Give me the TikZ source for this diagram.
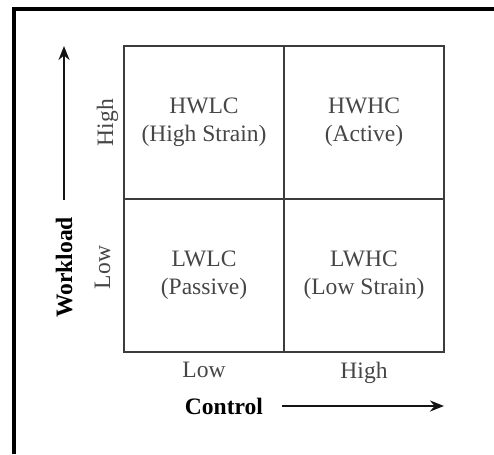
\documentclass[tikz,border=0pt]{standalone}
\usepackage{fontspec}
\setmainfont{Liberation Serif}
\usepackage{tikz}
\usetikzlibrary{arrows.meta, positioning, calc}
\definecolor{mydark}{RGB}{20,20,20}
\definecolor{mygrid}{RGB}{60,60,60}
\definecolor{mytext}{RGB}{70,70,70}
\tikzset{
  cell/.style={rectangle, draw=mygrid, line width=1.1pt,
    minimum width=3.2cm, minimum height=3.06cm, inner sep=0pt, outer sep=0pt,
    align=center, text=mytext, font=\fontsize{13.4}{16}\selectfont},
  axlabel/.style={inner sep=0pt, text=mytext, font=\fontsize{13.4}{16}\selectfont},
  axtitle/.style={inner sep=0pt, text=black, font=\fontsize{13.4}{16}\selectfont\bfseries},
  axarrow/.style={-{Stealth[length=0.28cm, width=0.22cm]}, line width=1.1pt, color=mydark},
  frame/.style={line width=2pt, color=black}
}

\begin{document}
\begin{tikzpicture}
  \useasboundingbox (0,0) rectangle (9.88,-9.08);
  \draw[frame] (0.28,-9.08) |- (9.88,-0.18);

  % quadrants
  \node[cell] (hwlc) at (4.08,-2.45) {HWLC\\(High Strain)};
  \node[cell, right=0pt of hwlc] (hwhc) {HWHC\\(Active)};
  \node[cell, below=0pt of hwlc] (lwlc) {LWLC\\(Passive)};
  \node[cell, right=0pt of lwlc] (lwhc) {LWHC\\(Low Strain)};

  % control axis
  \node[axlabel, below=0.2cm of lwlc] (ctlow) {Low};
  \node[axlabel, below=0.2cm of lwhc] (cthigh) {High};
  \node[axtitle, below=0.38cm of ctlow, xshift=0.4cm] (ctrl) {Control};
  \coordinate (ctend) at (ctrl.east -| lwhc.east);
  \draw[axarrow] ([xshift=0.38cm]ctrl.east) -- (ctend);

  % workload axis
  \node[axlabel, rotate=90, anchor=base] (wkhigh) at ([xshift=-0.22cm]hwlc.west) {High};
  \node[axlabel, rotate=90, anchor=base] (wklow) at ([xshift=-0.28cm, yshift=0.16cm]lwlc.west) {Low};
  \node[axtitle, rotate=90, anchor=base] (wkld) at ([xshift=-0.76cm]wklow.base) {Workload};
  \coordinate (wkend) at (wkld.east |- hwlc.north);
  \draw[axarrow] ([yshift=0.34cm]wkld.east) -- (wkend);
\end{tikzpicture}
\end{document}
